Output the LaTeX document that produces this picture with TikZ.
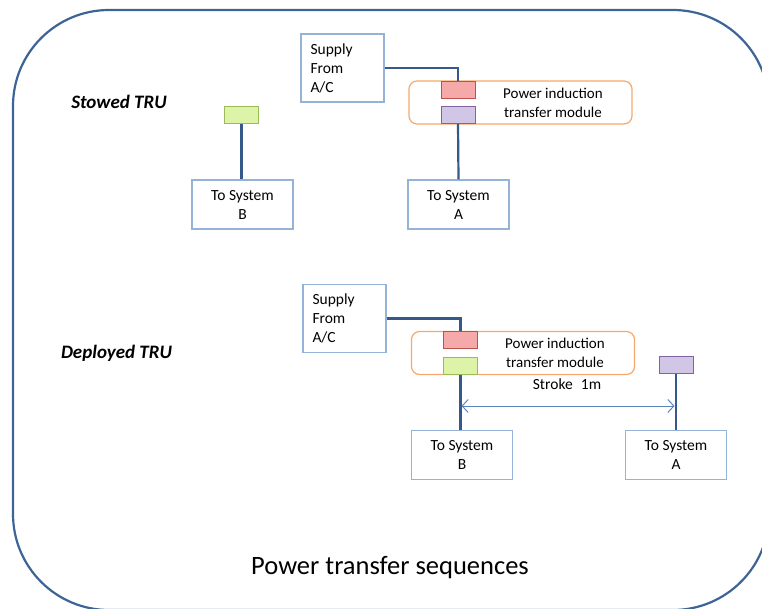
\documentclass[tikz,border=0pt]{standalone}
\usepackage{fontspec}
\setmainfont{Carlito}
\usetikzlibrary{arrows.meta}
\definecolor{framecol}{HTML}{3E6496}
\definecolor{wirecol}{HTML}{34598A}
\definecolor{boxcol}{HTML}{95B3D7}
\definecolor{modcol}{HTML}{F7A86A}
\definecolor{redfill}{HTML}{F5A9A9}
\definecolor{redline}{HTML}{C0504D}
\definecolor{purfill}{HTML}{D2C6E6}
\definecolor{purline}{HTML}{8064A2}
\definecolor{grnfill}{HTML}{DDF3A8}
\definecolor{grnline}{HTML}{9BBB59}
\definecolor{strokecol}{HTML}{5B86C0}
\tikzset{
  sysbox/.style={draw=boxcol, line width=1.2pt, fill=white, minimum width=101pt,
    minimum height=49pt, inner sep=0pt, align=center,
    font=\fontsize{15.5}{19}\selectfont},
  supbox/.style={draw=boxcol, line width=1.2pt, fill=white, minimum width=83pt,
    minimum height=68pt, inner sep=0pt, align=left, text width=64pt,
    font=\fontsize{15.5}{19}\selectfont},
  modbox/.style={draw=modcol, line width=1.2pt, fill=white, rounded corners=8pt,
    minimum width=223pt, minimum height=43pt, inner sep=0pt},
  modtext/.style={align=center, font=\fontsize{15}{19}\selectfont},
  plug/.style={line width=1pt, minimum width=34pt, minimum height=17pt, inner sep=0pt},
  redplug/.style={plug, draw=redline, fill=redfill},
  purplug/.style={plug, draw=purline, fill=purfill},
  grnplug/.style={plug, draw=grnline, fill=grnfill},
  wire/.style={draw=wirecol, line width=2.2pt},
  heading/.style={font=\fontsize{19}{22}\selectfont\bfseries\itshape},
  strokearrow/.style={draw=strokecol, line width=1pt,
    {Straight Barb[length=6pt,width=13pt]}-{Straight Barb[length=6pt,width=13pt]}},
}
\begin{document}
\begin{tikzpicture}[x=1pt,y=-1pt]
\useasboundingbox (0,0) rectangle (762,608);
\begin{scope}
  \clip (0,0) rectangle (762,608);
  \draw[framecol, line width=2.2pt, rounded corners=96pt] (13,10) rectangle (769,610);
\end{scope}

% ---- stowed TRU ----
\node[heading] (stowed) at (119,102) {Stowed TRU};
\node[supbox] (sup1) at (342.5,68) {Supply\\From\\A/C};
\node[modbox] (mod1) at (520.5,102.5) {};
\node[modtext] (mod1t) at (553,102.5) {Power induction\\transfer module};
\node[redplug] (red1) at (458,89.5) {};
\node[purplug] (pur1) at (458,115) {};
\node[grnplug] (grn1) at (241.5,115) {};
\node[sysbox] (sysB1) at (242.5,204.5) {To System\\B};
\node[sysbox] (sysA1) at (458.5,204.5) {To System\\A};
\draw[wire] (sup1.east) -| (red1.north);
\draw[wire] (pur1.south) -- (sysA1.north);
\draw[wire] (grn1.south) -- (grn1.south |- sysB1.north);

% ---- deployed TRU ----
\node[heading] (deployed) at (116.5,353) {Deployed TRU};
\node[supbox] (sup2) at (344.5,318.5) {Supply\\From\\A/C};
\node[modbox] (mod2) at (523,353) {};
\node[modtext] (mod2t) at (555,353) {Power induction\\transfer module};
\node[redplug] (red2) at (460.5,339.5) {};
\node[grnplug] (grn2) at (460.5,366) {};
\node[purplug] (pur2) at (676,365) {};
\node[sysbox] (sysB2) at (462,455) {To System\\B};
\node[sysbox] (sysA2) at (676,455) {To System\\A};
\draw[wire] (sup2.east) -| (red2.north);
\draw[wire] (grn2.south) -- (grn2.south |- sysB2.north);
\draw[wire] (pur2.south) -- (sysA2.north);

\coordinate (strokeL) at (461.5,406);
\coordinate (strokeR) at (674.5,406);
\draw[strokearrow] (strokeL) -- (strokeR);
\node[font=\fontsize{15.5}{18}\selectfont] (strokelbl) at (567,384) {Stroke\hspace{0.3em} 1m};

\node[font=\fontsize{26.5}{30}\selectfont] (title) at (390,568) {Power transfer sequences};
\end{tikzpicture}
\end{document}
